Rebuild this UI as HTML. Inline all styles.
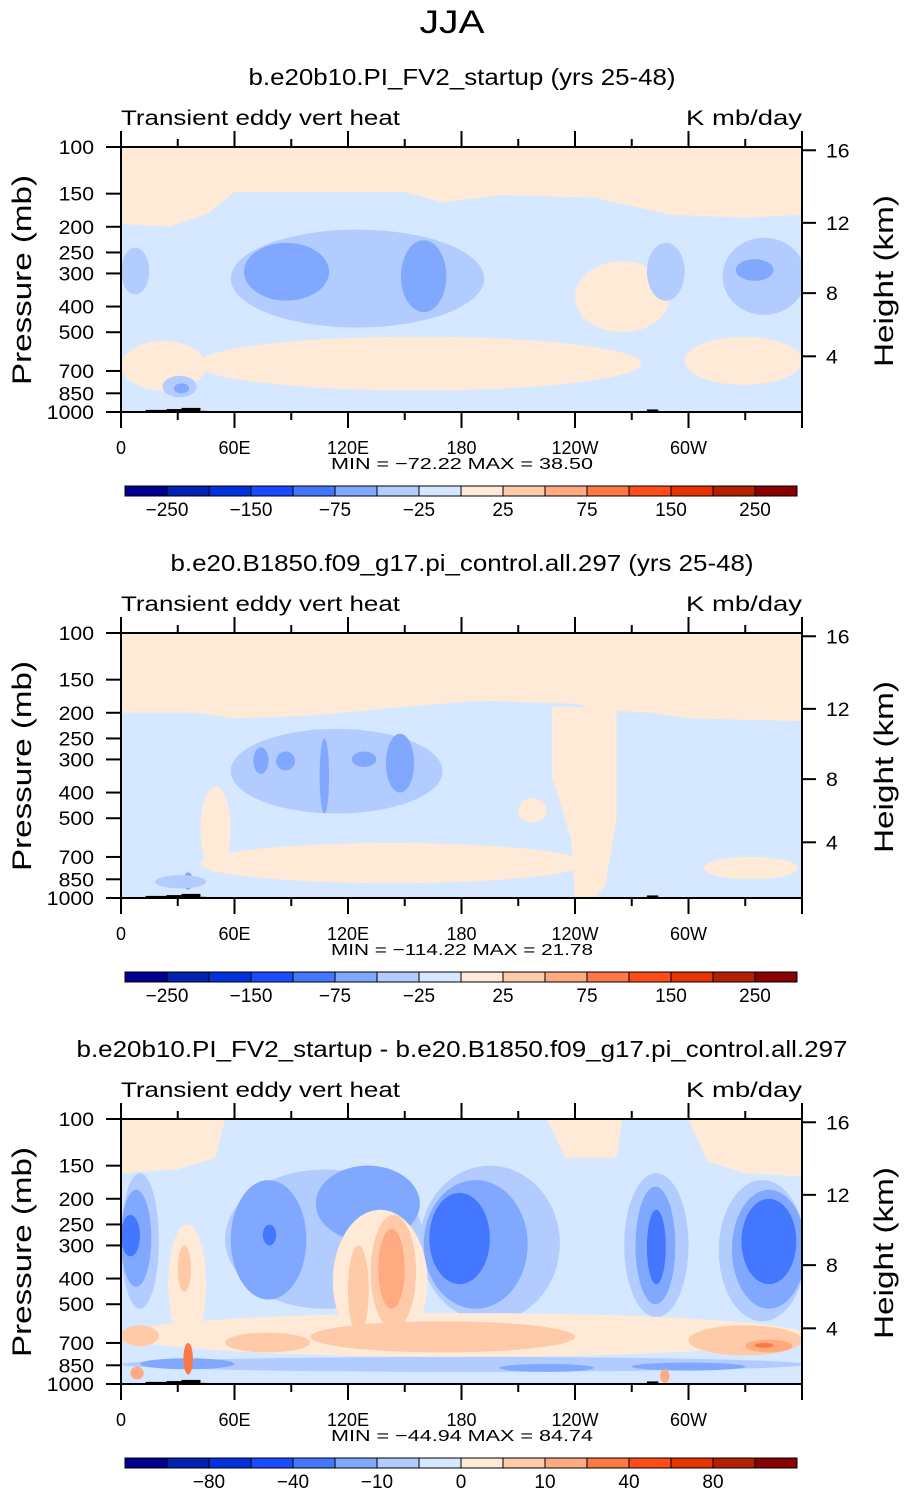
<!DOCTYPE html>
<html><head><meta charset="utf-8">
<style>
body{margin:0;background:#fff;width:905px;height:1493px;overflow:hidden;font-family:"Liberation Sans",sans-serif}
svg text{font-family:"Liberation Sans",sans-serif;fill:#000}
</style></head>
<body>
<svg id="fig" width="905" height="1493" viewBox="0 0 905 1493" xmlns="http://www.w3.org/2000/svg">
<text x="452" y="33" font-size="32" text-anchor="middle" textLength="65" lengthAdjust="spacingAndGlyphs">JJA</text>
</svg>
<script>
const levelColors=["#000090","#0022b0","#0033dd","#1a4cff","#4477ff","#80a8ff","#b3ccff","#d6e8ff","#ffead8","#ffcaa8","#ffaa80","#ff7744","#ff4d1a","#e63300","#b32000","#8a0000"];
const panelTitles=["b.e20b10.PI_FV2_startup (yrs 25-48)","b.e20.B1850.f09_g17.pi_control.all.297 (yrs 25-48)","b.e20b10.PI_FV2_startup - b.e20.B1850.f09_g17.pi_control.all.297"];
const titleWidths=[427,583,771];
const panelMin=["-72.22","-114.22","-44.94"];
const panelMax=["38.50","21.78","84.74"];
const pressTicks=[100,150,200,250,300,400,500,700,850,1000];
const heightTicks=[16,12,8,4];
const lonTicks=[0,60,120,180,240,300];
const lonLabels=["0","60E","120E","180","120W","60W"];
const cbLabelsAbs=["\u2212250","\u2212150","\u221275","\u221225","25","75","150","250"];
const cbLabelsDiff=["\u221280","\u221240","\u221210","0","10","40","80"];
const bgLevel=[7,7,7];
// polygons: [level, [[lon,p],...]]
const polys1=[[8,[[0,100],[360,100],[360,180],[330,185],[290,180],[250,155],[200,152],[170,162],[150,148],[60,148],[45,180],[25,200],[0,195]]]];
const polys2=[[8,[[0,100],[360,100],[360,215],[300,210],[280,200],[255,195],[240,185],[190,180],[150,190],[100,205],[60,210],[40,200],[0,200]]],
 [8,[[228,190],[262,190],[262,500],[256,900],[250,1000],[240,1000],[238,600],[228,350]]]];
const polys3=[[8,[[0,100],[55,100],[50,140],[30,155],[0,160]]],[8,[[225,100],[265,100],[262,140],[235,140]]],[8,[[300,100],[360,100],[360,165],[330,160],[310,145]]]];
// ellipses: [level, lonWest, lonEast, pTop, pBottom]
const ells1=[[8,40,275,520,830],[8,298,360,520,790],[8,0,45,540,830],[8,240,290,270,500],
 [6,58,192,205,480],[5,65,110,230,380],[5,148,172,225,420],[6,278,298,230,380],[6,318,362,220,430],[5,325,345,265,320],[6,0,15,240,360],[6,22,40,730,880],[5,28,36,780,850]];
const ells2=[[8,42,245,620,880],[8,42,58,380,800],[8,308,358,700,850],[8,210,225,420,520],
 [6,58,170,230,480],[5,70,78,270,340],[5,82,92,280,330],[5,105,110,250,480],[5,122,135,280,320],[5,140,155,240,400],[5,33,38,800,930],[6,18,45,820,920]];
const ells3=[[6,0,20,160,520],[5,0,16,185,430],[4,0,10,230,330],
 [6,55,160,155,520],[5,58,98,170,480],[5,103,158,150,290],[4,75,82,250,300],
 [6,158,232,150,580],[5,160,215,170,520],[4,163,195,190,420],
 [6,266,300,160,560],[5,272,293,180,500],[4,278,288,220,420],
 [6,316,362,170,580],[5,323,362,185,520],[4,328,357,200,420],
 [8,0,362,540,790],[8,112,162,220,760],[9,132,156,230,620],[9,120,131,300,650],[10,136,150,260,520],
 [8,25,45,250,700],[9,30,37,300,450],[9,55,100,640,760],[9,100,240,580,760],[9,300,360,600,780],[10,330,355,680,760],[11,335,345,700,730],
 [9,0,20,600,720],
 [6,0,362,790,900],[5,10,60,800,880],[5,200,250,840,900],[5,270,330,830,890],[11,33,38,700,920],[10,5,12,860,960],[10,285,290,880,990]];
const terrain=[[8,13,992],[13,24,982],[24,32,975],[32,42,965],[42,45,990],[98,106,992],[110,130,992],[278,284,978],[284,310,992]];
const panelPolys=[polys1,polys2,polys3];
const panelElls=[ells1,ells2,ells3];

const svg=document.getElementById('fig');
const NS="http://www.w3.org/2000/svg";
function mk(tag,attrs,parent){const e=document.createElementNS(NS,tag);for(const k in attrs)e.setAttribute(k,attrs[k]);(parent||svg).appendChild(e);return e;}
const X0=121,X1=802,PH=265;
function xs(lon){return X0+(X1-X0)*lon/360;}
function ys(p,off){return off+412-PH*Math.log10(1000/p);}
function zToP(z){const m=z*1000;return m<=11000?1013.25*Math.pow(1-2.25577e-5*m,5.25588):226.32*Math.exp(-(m-11000)/6341.6);}
const SA='spacingAndGlyphs';

for(let k=0;k<3;k++){
  const off=k*486;
  const g=mk('g',{});
  
  
  const t=mk('text',{x:462,y:off+85,'font-size':23,'text-anchor':'middle',textLength:titleWidths[k],lengthAdjust:SA},g);t.textContent=panelTitles[k];
  
  
  const l=mk('text',{x:121,y:off+125,'font-size':21,textLength:279,lengthAdjust:SA},g);l.textContent="Transient eddy vert heat";
  
  
  const u=mk('text',{x:686,y:off+125,'font-size':21,textLength:116,lengthAdjust:SA},g);u.textContent="K mb/day";
  
  
  const cpId='cp'+k;
  const cp=mk('clipPath',{id:cpId},g);mk('rect',{x:X0,y:off+147,width:X1-X0,height:265},cp);
  const field=mk('g',{'clip-path':'url(#'+cpId+')'},g);
  
  
  const bg=mk('rect',{x:X0,y:off+147,width:X1-X0,height:265,fill:levelColors[bgLevel[k]]},field);
  
  
  for(const [lv,pts] of panelPolys[k]){
    const pg=mk('polygon',{points:pts.map(q=>xs(q[0])+','+ys(q[1],off)).join(' '),fill:levelColors[lv]},field);
    
    
  }
  for(const [lv,a,b,pt,pb] of panelElls[k]){
    const xa=xs(a),xb=xs(b),ya=ys(pt,off),yb=ys(pb,off);
    const el=mk('ellipse',{cx:(xa+xb)/2,cy:(ya+yb)/2,rx:(xb-xa)/2,ry:(yb-ya)/2,fill:levelColors[lv]},field);
    
    
  }
  for(const [a,b,p] of terrain){
    const r=mk('rect',{x:xs(a),y:ys(p,off),width:xs(b)-xs(a),height:412+off-ys(p,off),fill:'#000'},field);
    
    
  }
  const fr=mk('rect',{x:X0,y:off+147,width:X1-X0,height:265,fill:'none',stroke:'#000','stroke-width':2},g);
  
  
  for(const p of pressTicks){
    const y=ys(p,off);
    mk('line',{x1:X0-15,x2:X0,y1:y,y2:y,stroke:'#000','stroke-width':2},g);
    const s=String(p);
    const tl=mk('text',{x:X0-27,y:y+7,'font-size':19,'text-anchor':'end',textLength:s.length*11.8,lengthAdjust:SA},g);tl.textContent=s;
    
    
  }
  for(const z of heightTicks){
    const y=ys(zToP(z),off);
    mk('line',{x1:X1,x2:X1+14,y1:y,y2:y,stroke:'#000','stroke-width':2},g);
    const s=String(z);
    const tl=mk('text',{x:X1+24,y:y+7,'font-size':19,textLength:s.length*11.8,lengthAdjust:SA},g);tl.textContent=s;
    
    
  }
  for(let lon=0;lon<=360;lon+=30){
    const major=lon%60===0, x=xs(lon);
    mk('line',{x1:x,x2:x,y1:off+412,y2:off+412+(major?16:8),stroke:'#000','stroke-width':2},g);
    mk('line',{x1:x,x2:x,y1:off+147,y2:off+147-(major?16:8),stroke:'#000','stroke-width':2},g);
  }
  lonTicks.forEach((lon,i)=>{
    const tl=mk('text',{x:xs(lon),y:off+454,'font-size':18,'text-anchor':'middle'},g);tl.textContent=lonLabels[i];
    
    
  });
  const mm=mk('text',{x:462,y:off+469,'font-size':16,'text-anchor':'middle',textLength:262,lengthAdjust:SA},g);
  mm.textContent="MIN = \u2212"+panelMin[k].replace('-','')+"   MAX =   "+panelMax[k];
  
  
  const yl=mk('text',{transform:'translate(31,'+(off+280)+') rotate(-90)','font-size':27,'text-anchor':'middle',textLength:210,lengthAdjust:SA},g);yl.textContent="Pressure (mb)";
  
  
  const hl=mk('text',{transform:'translate(893,'+(off+281)+') rotate(-90)','font-size':27,'text-anchor':'middle',textLength:172,lengthAdjust:SA},g);hl.textContent="Height (km)";
  
  
  const cb=mk('g',{},g);
  
  
  const cy=off+486,bw=42;
  levelColors.forEach((c,i)=>{
    const r=mk('rect',{x:125+i*bw,y:cy,width:bw,height:10,fill:c,stroke:'#000','stroke-width':1},cb);
    
    
  });
  const labs=k<2?cbLabelsAbs:cbLabelsDiff;
  labs.forEach((s,i)=>{
    const b=k<2?1+2*i:2+2*i;
    const tl=mk('text',{x:125+b*bw,y:cy+30,'font-size':19,'text-anchor':'middle'},cb);tl.textContent=s;
    
    
  });
}
</script>
</body></html>
